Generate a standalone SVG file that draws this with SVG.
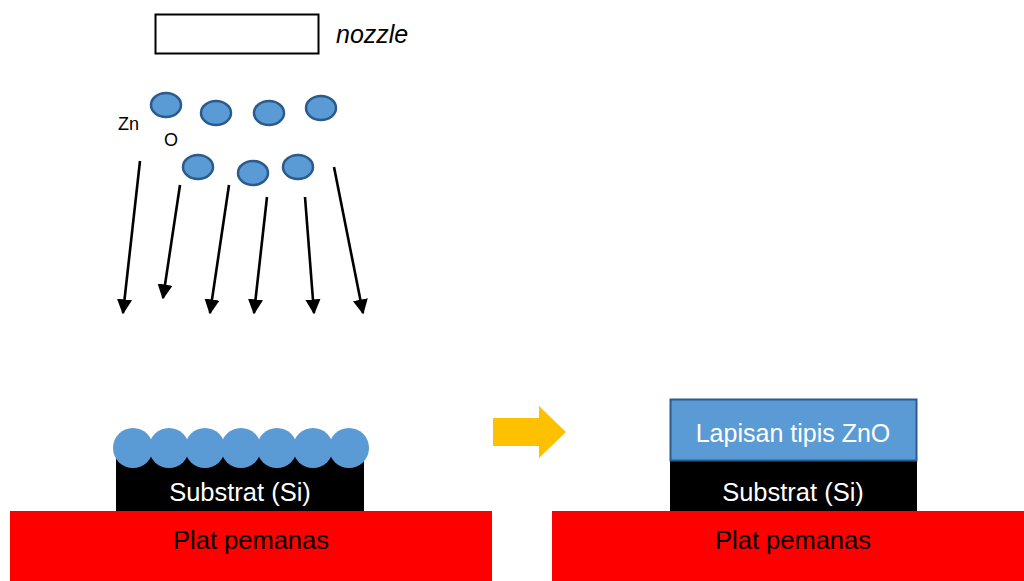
<svg xmlns="http://www.w3.org/2000/svg" width="1024" height="581" viewBox="0 0 1024 581">
<defs>
<style>
.t{font-family:"Liberation Sans",Arial,sans-serif}
.atom{fill:#5B9BD5;stroke:#2A5B8C;stroke-width:2.5}
.flow{stroke:#000;stroke-width:2.6;fill:none;marker-end:url(#ah)}
</style>
<marker id="ah" viewBox="0 0 10 10" refX="9" refY="5" markerWidth="5.8" markerHeight="5.8" orient="auto" markerUnits="strokeWidth">
<path d="M0,0 L10,5 L0,10 Z" fill="#000"/>
</marker>
</defs>
<rect width="1024" height="581" fill="#fff"/>
<g id="nozzle">
<rect x="155.5" y="14.5" width="163" height="39" fill="#fff" stroke="#000" stroke-width="2"/>
<text class="t" x="336" y="43" font-size="25" font-style="italic">nozzle</text>
</g>
<g id="atoms">
<ellipse class="atom" cx="166" cy="105" rx="15" ry="12"/>
<ellipse class="atom" cx="216" cy="113" rx="15" ry="12"/>
<ellipse class="atom" cx="269" cy="113" rx="15" ry="12"/>
<ellipse class="atom" cx="321" cy="108" rx="15" ry="12"/>
<ellipse class="atom" cx="198" cy="167" rx="15" ry="12"/>
<ellipse class="atom" cx="253" cy="173" rx="15" ry="12"/>
<ellipse class="atom" cx="298" cy="167" rx="15" ry="12"/>
<text class="t" x="118" y="130" font-size="18">Zn</text>
<text class="t" x="164" y="146" font-size="18">O</text>
</g>
<g id="connectors">
<line class="flow" x1="140" y1="161" x2="123" y2="313"/>
<line class="flow" x1="180" y1="185" x2="163" y2="298"/>
<line class="flow" x1="229" y1="185" x2="210" y2="313"/>
<line class="flow" x1="267" y1="197" x2="254" y2="313"/>
<line class="flow" x1="305" y1="197" x2="314" y2="313"/>
<line class="flow" x1="334" y1="167" x2="363" y2="313"/>
</g>
<g id="left-plate">
<rect x="10" y="511" width="482" height="70" fill="#FF0000"/>
<text class="t" x="251" y="549" font-size="25.5" text-anchor="middle">Plat pemanas</text>
</g>
<g id="left-substrate">
<rect x="116" y="455" width="248" height="56" fill="#000"/>
<text class="t" x="240" y="501" font-size="25.5" fill="#fff" text-anchor="middle">Substrat (Si)</text>
</g>
<g id="left-deposit" fill="#5B9BD5">
<ellipse cx="133" cy="448" rx="20" ry="20"/>
<ellipse cx="169" cy="448" rx="20" ry="20"/>
<ellipse cx="205" cy="448" rx="20" ry="20"/>
<ellipse cx="241" cy="448" rx="20" ry="20"/>
<ellipse cx="277" cy="448" rx="20" ry="20"/>
<ellipse cx="313" cy="448" rx="20" ry="20"/>
<ellipse cx="349" cy="448" rx="20" ry="20"/>
</g>
<g id="process-arrow">
<path d="M493,418 H539 V406 L566,432 L539,458 V446 H493 Z" fill="#FFC000"/>
</g>
<g id="right-plate">
<rect x="552" y="511" width="472" height="70" fill="#FF0000"/>
<text class="t" x="793" y="549" font-size="25.5" text-anchor="middle">Plat pemanas</text>
</g>
<g id="right-substrate">
<rect x="670" y="461" width="247" height="50" fill="#000"/>
<text class="t" x="793" y="501" font-size="25.5" fill="#fff" text-anchor="middle">Substrat (Si)</text>
</g>
<g id="right-film">
<rect x="670.5" y="399.5" width="246" height="61" fill="#5B9BD5" stroke="#2A5B8C" stroke-width="2"/>
<text class="t" x="793" y="442" font-size="25" fill="#fff" text-anchor="middle">Lapisan tipis ZnO</text>
</g>
</svg>
